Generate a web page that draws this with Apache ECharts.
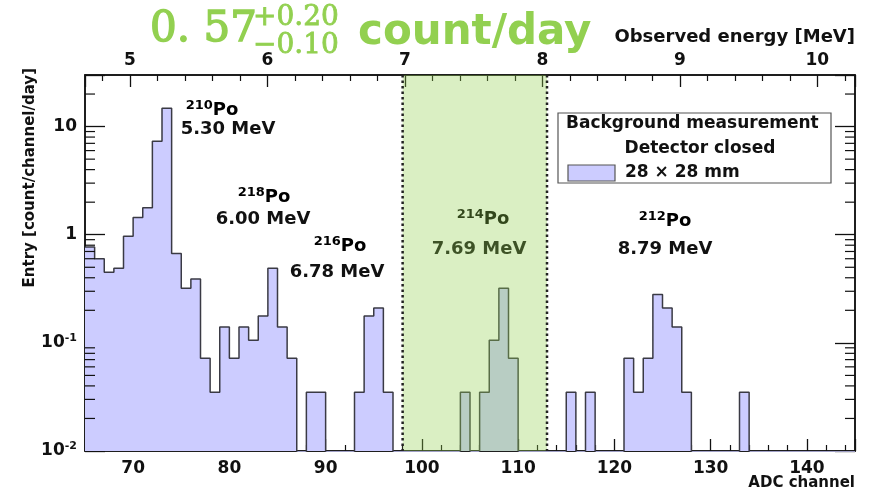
<!DOCTYPE html>
<html>
<head>
<meta charset="utf-8">
<script src="https://cdn.jsdelivr.net/npm/echarts@6/dist/echarts.min.js"></script>
<style>
  body { margin: 0; background: #fff; }
  #chart { width: 871px; height: 498px; }
</style>
</head>
<body>
<div id="chart"></div>
<script>
// 数据：每个通道一个 bin，从 65 通道开始
var firstChannel = 65;
var entries = [
    0.77, 0.60, 0.45, 0.49, 0.97, 1.44, 1.78, 7.3, 14.8, 0.67,   // 65-74
    0.32, 0.39, 0.072, 0.035, 0.14, 0.072, 0.14, 0.106, 0.177, 0.49, // 75-84
    0.14, 0.072, 0, 0.035, 0.035, 0, 0, 0, 0.035, 0.177,         // 85-94
    0.21, 0.035, 0, 0, 0, 0, 0, 0, 0, 0.035,                     // 95-104
    0, 0.035, 0.106, 0.32, 0.072, 0, 0, 0, 0, 0,                 // 105-114
    0.035, 0, 0.035, 0, 0, 0, 0.072, 0.035, 0.072, 0.28,         // 115-124
    0.21, 0.14, 0.035, 0, 0, 0, 0, 0, 0.035, 0,                  // 125-134
    0, 0, 0, 0, 0, 0, 0, 0, 0, 0                                 // 135-144
];
// 214Po 选区（通道）
var bandChannels = [98, 113];
// 对数轴的次刻度
var yMinorTicks = [0.02, 0.03, 0.04, 0.05, 0.06, 0.07, 0.08, 0.09,
    0.2, 0.3, 0.4, 0.5, 0.6, 0.7, 0.8, 0.9,
    2, 3, 4, 5, 6, 7, 8, 9, 20];
var channelRange = [65, 145];
var energyRange = [4.674, 10.274];
var entryRange = [0.01, 30];
// 峰的标注
var peakIsotopes = ['210', '218', '216', '214', '212'];
var peakEnergies = ['5.30 MeV', '6.00 MeV', '6.78 MeV', '7.69 MeV', '8.79 MeV'];
var peakLabelPos = [[212, 110, 228, 129], [264, 197, 263, 219], [340, 246, 337, 272], [483, 219, 479, 249], [665, 221, 665, 249]];

var FONT = 'DejaVu Sans';
var lavender = '#ccccff';
var green = '#92d050';

// 直方图折线点：每个 bin 的左边界 + 最后一个右边界，空 bin 放到轴下方
function histPoints() {
    var pts = [];
    for (let i = 0; i < entries.length; i++) {
        pts.push([firstChannel + i, entries[i] > 0 ? entries[i] : 1e-4]);
    }
    var last = entries[entries.length - 1];
    pts.push([firstChannel + entries.length, last > 0 ? last : 1e-4]);
    return pts;
}

function yLabel(v) {
    var lg = Math.log10(v);
    var p = Math.round(lg);
    if (Math.abs(lg - p) > 1e-6) return '';
    if (p === 0) return '{b|1}';
    if (p === 1) return '{b|10}';
    return '{b|10}{s|' + p + '}';
}

var textRich = {
    b: { fontFamily: FONT, fontWeight: 'bold', fontSize: 18, color: '#111' },
    s: { fontFamily: FONT, fontWeight: 'bold', fontSize: 13, color: '#111', padding: [0, 0, 8, 0] }
};

var peakGraphics = [];
for (let i = 0; i < peakIsotopes.length; i++) {
    var pos = peakLabelPos[i];
    peakGraphics.push({
        type: 'text', x: pos[0], y: pos[1], z: 0,
        style: { text: '{s|' + peakIsotopes[i] + '}{b|Po}', rich: textRich, align: 'center', verticalAlign: 'middle' }
    });
    peakGraphics.push({
        type: 'text', x: pos[2], y: pos[3], z: 0,
        style: { text: peakEnergies[i], fontFamily: FONT, fontWeight: 'bold', fontSize: 18, fill: '#111', align: 'center', verticalAlign: 'middle' }
    });
}

var chartDom = document.getElementById('chart');
var myChart = echarts.init(chartDom);
var option;

option = {
    animation: false,
    grid: {
        left: 85, top: 75, right: 16, bottom: 47,
        show: true, borderColor: '#111', borderWidth: 1.5, backgroundColor: 'transparent'
    },
    xAxis: [
        {
            type: 'value',
            position: 'bottom',
            min: channelRange[0],
            max: channelRange[1],
            splitNumber: 8,
            minInterval: 10,
            maxInterval: 10,
            axisLine: { lineStyle: { color: '#111', width: 1.5 } },
            axisTick: { inside: true, length: 12, lineStyle: { color: '#111', width: 1.3 } },
            minorTick: { show: true, splitNumber: 5, length: 6, lineStyle: { color: '#111', width: 1.2 } },
            splitLine: { show: false },
            axisLabel: {
                margin: 9,
                fontFamily: FONT, fontWeight: 'bold', fontSize: 17, color: '#111',
                formatter: function (v) { return v % 10 === 0 ? String(v) : ''; }
            }
        },
        {
            type: 'value',
            position: 'top',
            min: energyRange[0],
            max: energyRange[1],
            splitNumber: 6,
            axisLine: { lineStyle: { color: '#111', width: 1.5 } },
            axisTick: { inside: true, length: 12, lineStyle: { color: '#111', width: 1.3 } },
            minorTick: { show: true, splitNumber: 5, length: 6, lineStyle: { color: '#111', width: 1.2 } },
            splitLine: { show: false },
            axisLabel: {
                margin: 6,
                fontFamily: FONT, fontWeight: 'bold', fontSize: 17, color: '#111',
                formatter: function (v) { return Math.abs(v - Math.round(v)) < 1e-6 ? String(Math.round(v)) : ''; }
            }
        }
    ],
    yAxis: [
        {
            type: 'log',
            logBase: 10,
            min: entryRange[0],
            max: entryRange[1],
            axisLine: { show: true, lineStyle: { color: '#111', width: 1.5 } },
            axisTick: { show: true, inside: true, length: 20, lineStyle: { color: '#111', width: 1.3 } },
            splitLine: { show: false },
            axisLabel: {
                margin: 8,
                formatter: yLabel,
                rich: {
                    b: { fontFamily: FONT, fontWeight: 'bold', fontSize: 17, color: '#111' },
                    s: { fontFamily: FONT, fontWeight: 'bold', fontSize: 11, color: '#111', padding: [0, 0, 9, 0] }
                }
            }
        },
        {
            type: 'log',
            logBase: 10,
            position: 'right',
            min: entryRange[0],
            max: entryRange[1],
            axisLine: { show: true, lineStyle: { color: '#111', width: 1.5 } },
            axisTick: { show: true, inside: true, length: 20, lineStyle: { color: '#111', width: 1.3 } },
            splitLine: { show: false },
            axisLabel: { show: false }
        }
    ],
    series: [
        {
            name: '28 × 28 mm',
            type: 'line',
            step: 'end',
            xAxisIndex: 0,
            yAxisIndex: 0,
            z: 2,
            showSymbol: false,
            clip: true,
            lineStyle: { color: '#3a3a44', width: 1.5 },
            areaStyle: { color: lavender, opacity: 1, origin: 'start' },
            data: histPoints()
        },
        {
            // 对数轴次刻度（左右两侧）
            type: 'custom',
            xAxisIndex: 0,
            yAxisIndex: 0,
            z: 3,
            silent: true,
            data: yMinorTicks.map(function (v) { return [firstChannel, v]; }),
            renderItem: function (params, api) {
                var y = api.coord([api.value(0), api.value(1)])[1];
                var cs = params.coordSys;
                var st = { stroke: '#111', lineWidth: 1.2 };
                return {
                    type: 'group',
                    children: [
                        { type: 'line', shape: { x1: cs.x, y1: y, x2: cs.x + 10, y2: y }, style: st },
                        { type: 'line', shape: { x1: cs.x + cs.width - 10, y1: y, x2: cs.x + cs.width, y2: y }, style: st }
                    ]
                };
            }
        },
        {
            // 214Po 选区：半透明绿色 + 虚线边界
            type: 'custom',
            xAxisIndex: 0,
            yAxisIndex: 0,
            z: 10,
            silent: true,
            data: [bandChannels],
            renderItem: function (params, api) {
                var cs = params.coordSys;
                var x0 = api.coord([api.value(0), 1])[0];
                var x1 = api.coord([api.value(1), 1])[0];
                var dash = { stroke: '#222', lineWidth: 2.5, lineDash: [2.5, 3] };
                return {
                    type: 'group',
                    children: [
                        { type: 'rect', shape: { x: x0, y: cs.y, width: x1 - x0, height: cs.height }, style: { fill: 'rgba(146,208,80,0.34)' } },
                        { type: 'line', shape: { x1: x0, y1: cs.y, x2: x0, y2: cs.y + cs.height }, style: dash },
                        { type: 'line', shape: { x1: x1, y1: cs.y, x2: x1, y2: cs.y + cs.height }, style: dash }
                    ]
                };
            }
        }
    ],
    graphic: peakGraphics.concat([
        // 轴标题
        {
            type: 'text', x: 855, y: 37,
            style: { text: 'Observed energy [MeV]', fontFamily: FONT, fontWeight: 'bold', fontSize: 18, fill: '#111', align: 'right', verticalAlign: 'middle' }
        },
        {
            type: 'text', x: 855, y: 483,
            style: { text: 'ADC channel', fontFamily: FONT, fontWeight: 'bold', fontSize: 15, fill: '#111', align: 'right', verticalAlign: 'middle' }
        },
        {
            type: 'text', x: 30, y: 68, rotation: Math.PI / 2,
            style: { text: 'Entry [count/channel/day]', fontFamily: FONT, fontWeight: 'bold', fontSize: 15, fill: '#111', align: 'right', verticalAlign: 'middle' }
        },
        // 图例框
        {
            type: 'rect', z: 20,
            shape: { x: 558, y: 113, width: 273, height: 70 },
            style: { fill: '#fff', stroke: '#555', lineWidth: 1.2 }
        },
        {
            type: 'text', x: 566, y: 124, z: 21,
            style: { text: 'Background measurement', fontFamily: FONT, fontWeight: 'bold', fontSize: 17, fill: '#111', align: 'left', verticalAlign: 'middle' }
        },
        {
            type: 'text', x: 700, y: 149, z: 21,
            style: { text: 'Detector closed', fontFamily: FONT, fontWeight: 'bold', fontSize: 17, fill: '#111', align: 'center', verticalAlign: 'middle' }
        },
        {
            type: 'rect', z: 21,
            shape: { x: 568, y: 165, width: 47, height: 16 },
            style: { fill: lavender, stroke: '#555', lineWidth: 1.2 }
        },
        {
            type: 'text', x: 625, y: 173, z: 21,
            style: { text: '28 × 28 mm', fontFamily: FONT, fontWeight: 'bold', fontSize: 17, fill: '#111', align: 'left', verticalAlign: 'middle' }
        },
        // 顶部绿色大字
        {
            type: 'text', x: 150, y: 30, z: 30,
            style: { text: '0. 57', fontFamily: 'DejaVu Serif', fontSize: 42, fill: green, stroke: green, lineWidth: 1.4, align: 'left', verticalAlign: 'middle' }
        },
        {
            type: 'text', x: 253, y: 18, z: 30,
            style: { text: '+0.20', fontFamily: 'DejaVu Serif', fontSize: 28, fill: green, stroke: green, lineWidth: 0.8, align: 'left', verticalAlign: 'middle' }
        },
        {
            type: 'text', x: 253, y: 46, z: 30,
            style: { text: '−0.10', fontFamily: 'DejaVu Serif', fontSize: 28, fill: green, stroke: green, lineWidth: 0.8, align: 'left', verticalAlign: 'middle' }
        },
        {
            type: 'text', x: 358, y: 33, z: 30,
            style: { text: 'count/day', fontFamily: FONT, fontWeight: 'bold', fontSize: 42, fill: green, align: 'left', verticalAlign: 'middle' }
        }
    ])
};

option && myChart.setOption(option);
</script>
</body>
</html>
